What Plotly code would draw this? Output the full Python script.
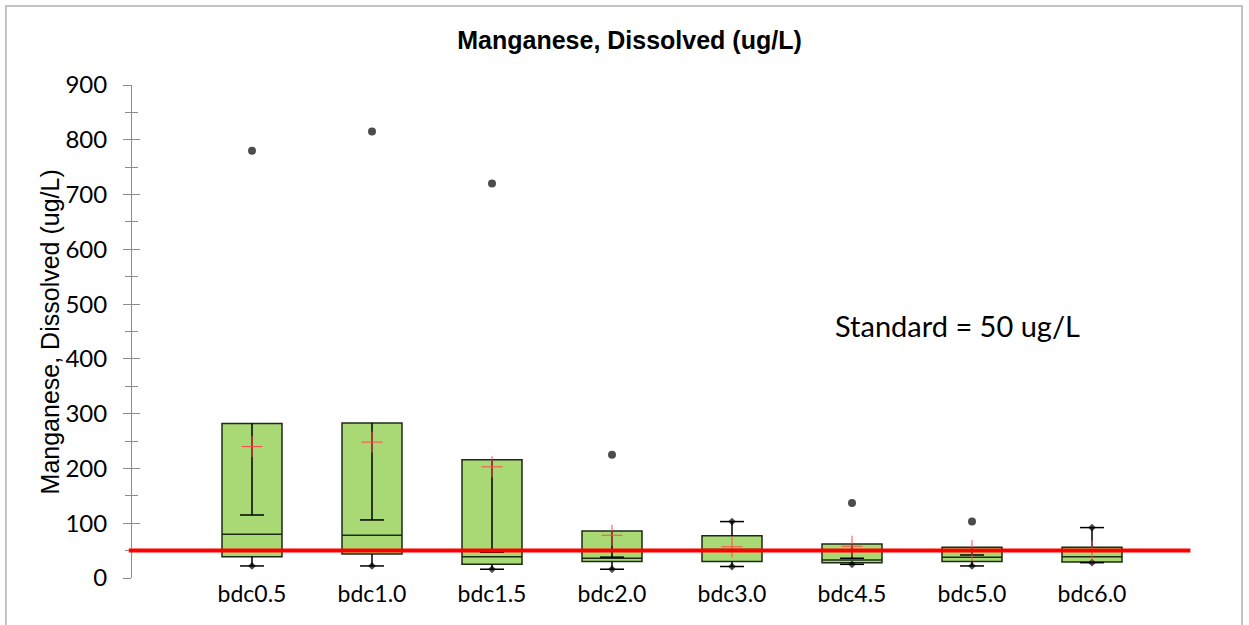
import plotly.graph_objects as go

# Dissolved manganese summary statistics per sampling location (ug/L)
categories = ["bdc0.5", "bdc1.0", "bdc1.5", "bdc2.0", "bdc3.0", "bdc4.5", "bdc5.0", "bdc6.0"]
q1_values = [39, 44, 25, 30, 30, 28, 30, 29]
median_values = [80, 78, 39, 36, 52, 33, 38, 39]
q3_values = [282, 283, 216, 86, 77, 62, 56, 56]
lower_whisker = [22, 22, 16, 16, 21, 25, 22, 28]
upper_whisker = [115, 106, 47, 38, 103, 36, 42, 92]
mean_values = [240, 248, 203, 78, 57, 58, 50, 49]
minimum_values = [22, 22, 16, 16, 21, 25, 22, 28]
maximum_values = [780, 815, 720, 225, 103, 137, 103, 92]

STANDARD = 50  # ug/L
y_ticks = list(range(0, 1000, 100))

BOX_FILL = "#a9d974"
BOX_EDGE = "#1f2a14"
BOX_WIDTH = 0.5
CAP_HALF = 0.1

positions = list(range(len(categories)))

fig = go.Figure()

# Boxes (Q1 - median - Q3); whiskers are drawn separately below
fig.add_trace(go.Box(
    x=positions,
    q1=q1_values,
    median=median_values,
    q3=q3_values,
    lowerfence=q1_values,
    upperfence=q3_values,
    boxpoints=False,
    width=BOX_WIDTH,
    whiskerwidth=0,
    fillcolor=BOX_FILL,
    line=dict(color=BOX_EDGE, width=1.5),
    showlegend=False,
    hoverinfo="skip",
))

# Whiskers with end caps: from Q3 to the upper whisker value, from Q1 to the lower one
wx, wy = [], []
for p, q1, q3, lw, uw in zip(positions, q1_values, q3_values, lower_whisker, upper_whisker):
    for start, end in ((q3, uw), (q1, lw)):
        wx += [p, p, None, p - CAP_HALF, p + CAP_HALF, None]
        wy += [start, end, None, end, end, None]
fig.add_trace(go.Scatter(
    x=wx, y=wy, mode="lines",
    line=dict(color="black", width=1.5),
    showlegend=False, hoverinfo="skip",
))

# Means as thin red crosses (drawn on the overlay axis, same scale)
fig.add_trace(go.Scatter(
    x=positions,
    y=mean_values,
    yaxis="y2",
    mode="markers",
    marker=dict(symbol="cross-thin", size=15, line=dict(color="#ff4a4a", width=1)),
    showlegend=False,
    hoverinfo="skip",
))

# Minimum and maximum observations; maxima beyond the whisker drawn as larger dots
point_x = positions + positions
point_y = minimum_values + maximum_values
point_size = [6] * len(minimum_values) + [
    8 if mx > uw else 6 for mx, uw in zip(maximum_values, upper_whisker)
]
point_symbol = ["diamond"] * len(minimum_values) + [
    "circle" if mx > uw else "diamond" for mx, uw in zip(maximum_values, upper_whisker)
]
fig.add_trace(go.Scatter(
    x=point_x,
    y=point_y,
    mode="markers",
    marker=dict(symbol=point_symbol, size=point_size, color="black", line=dict(width=0)),
    showlegend=False,
    hoverinfo="skip",
))

# Regulatory standard line
fig.add_shape(
    type="line", xref="paper", yref="y",
    x0=-0.003, x1=0.98, y0=STANDARD, y1=STANDARD,
    line=dict(color="#ff0000", width=4),
    layer="above",
)

fig.add_annotation(
    text="Standard = 50 ug/L",
    xref="paper", yref="paper", x=0.764, y=0.513,
    showarrow=False, xanchor="center", yanchor="middle",
    font=dict(family="Lato", size=29, color="black"),
)

fig.add_annotation(
    text="Manganese, Dissolved (ug/L)",
    xref="paper", yref="paper", x=-0.076, y=0.5,
    textangle=-90, showarrow=False, xanchor="center", yanchor="middle",
    font=dict(family="Liberation Sans", size=25, color="black"),
)

# Chart frame (left, top, right edges)
fig.add_shape(
    type="path", xref="paper", yref="paper",
    path="M -0.1167,-0.2 L -0.1167,1.1602 L 1.0278,1.1602 L 1.0278,-0.2",
    line=dict(color="#b0b0b0", width=1.5),
    layer="above",
)

fig.update_layout(
    width=1249,
    height=625,
    margin=dict(l=132, r=37, t=85, b=47),
    paper_bgcolor="white",
    plot_bgcolor="white",
    title=dict(
        text="<b>Manganese, Dissolved (ug/L)</b>",
        xref="container", yref="container",
        x=0.504, y=0.936, xanchor="center", yanchor="middle",
        font=dict(family="Liberation Sans", size=25, color="black"),
    ),
    xaxis=dict(
        range=[-1, 8],
        tickvals=positions,
        ticktext=categories,
        showline=False,
        showgrid=False,
        zeroline=False,
        ticks="",
        tickfont=dict(family="Lato", size=23, color="black"),
    ),
    yaxis=dict(
        range=[0, 900],
        tickvals=y_ticks,
        showgrid=False,
        zeroline=False,
        showline=True,
        linecolor="#8c8c8c",
        linewidth=1,
        ticks="outside",
        ticklen=8,
        tickcolor="#8c8c8c",
        minor=dict(dtick=50, ticks="outside", ticklen=6, tickcolor="#8c8c8c"),
        ticklabelstandoff=11,
        tickfont=dict(family="Lato", size=24, color="black"),
    ),
    yaxis2=dict(
        overlaying="y",
        anchor="x",
        side="left",
        range=[0, 900],
        tickvals=y_ticks,
        showticklabels=False,
        showgrid=False,
        zeroline=False,
        showline=False,
        ticks="inside",
        ticklen=8,
        tickcolor="#8c8c8c",
        minor=dict(dtick=50, ticks="inside", ticklen=6, tickcolor="#8c8c8c"),
    ),
)

fig.write_html("out.html")
